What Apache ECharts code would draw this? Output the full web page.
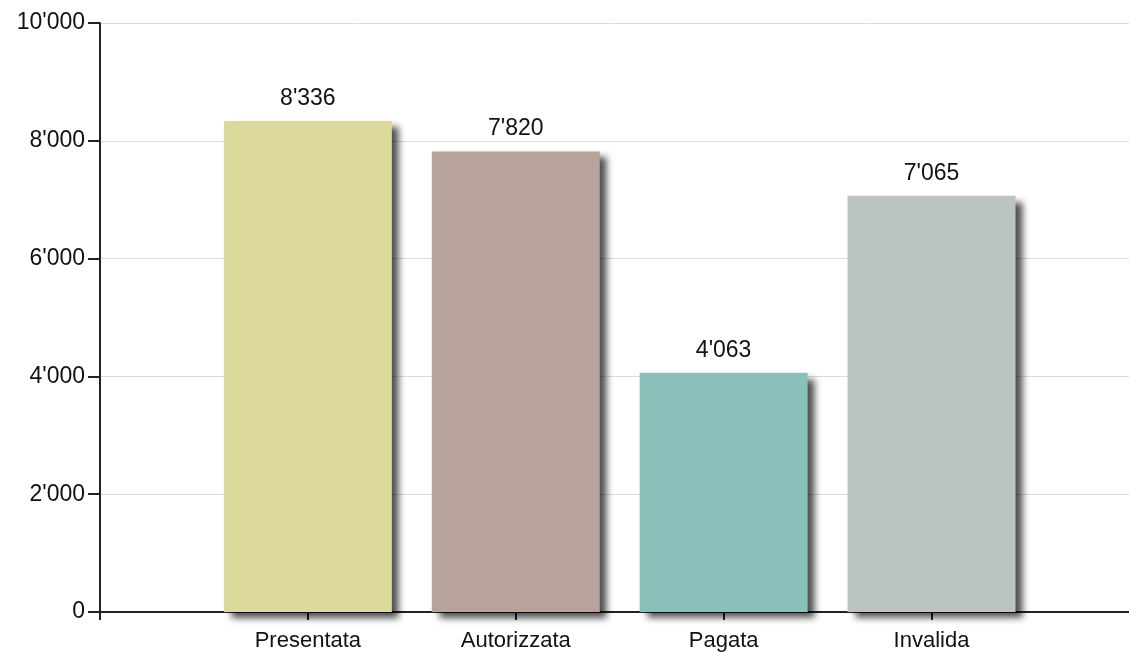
<!DOCTYPE html>
<html><head><meta charset="utf-8">
<script src="https://cdn.jsdelivr.net/npm/echarts@6/dist/echarts.min.js"></script>
<style>html,body{margin:0;padding:0;background:#fff}#c{width:1129px;height:652px}</style>
</head><body><div id="c"></div>
<script>
var categories = ['Presentata', 'Autorizzata', 'Pagata', 'Invalida'];
var values = [8336, 7820, 4063, 7065];
var colors = ['#dbd99c', '#b8a39c', '#8bc0ba', '#bcc4c1'];
var yTicks = [0, 2000, 4000, 6000, 8000, 10000];

function fmt(v) {
  return String(Math.round(v)).replace(/\B(?=(\d{3})+(?!\d))/g, "'");
}
var chart = echarts.init(document.getElementById('c'));
chart.setOption({
  animation: false,
  grid: { left: 100, right: 0, top: 23, bottom: 40, containLabel: false },
  xAxis: {
    type: 'value', min: 0, max: 4.95, interval: 1,
    splitLine: { show: false },
    axisLine: { show: true, lineStyle: { color: '#222', width: 2 } },
    axisTick: { show: true, length: 8, lineStyle: { color: '#222', width: 2 } },
    axisLabel: {
      fontFamily: 'Liberation Sans', fontSize: 22, color: '#111', margin: 18,
      showMaxLabel: false,
      formatter: function (v) { return (v >= 1 && v <= categories.length) ? categories[v - 1] : ''; }
    }
  },
  yAxis: {
    type: 'value', min: 0, max: 10000, interval: 2000,
    axisLine: { show: true, lineStyle: { color: '#222', width: 2 } },
    axisTick: { show: true, length: 12, lineStyle: { color: '#222', width: 2 } },
    splitLine: { show: true, lineStyle: { color: '#dcdcdc', width: 1 } },
    axisLabel: { fontFamily: 'Liberation Sans', fontSize: 23, color: '#111', margin: 15,
      formatter: function (v) { return yTicks.indexOf(v) >= 0 ? fmt(v) : ''; } }
  },
  series: [{
    type: 'bar',
    barWidth: 168,
    data: values.map(function (v, i) {
      return { value: [i + 1, v], itemStyle: { color: colors[i] } };
    }),
    itemStyle: {
      shadowColor: 'rgba(0,0,0,0.7)', shadowBlur: 7, shadowOffsetX: 7, shadowOffsetY: 6
    },
    label: {
      show: true, position: 'top', distance: 11,
      fontFamily: 'Liberation Sans', fontSize: 23, color: '#111',
      formatter: function (p) { return fmt(p.value[1]); }
    }
  }]
});
</script></body></html>
